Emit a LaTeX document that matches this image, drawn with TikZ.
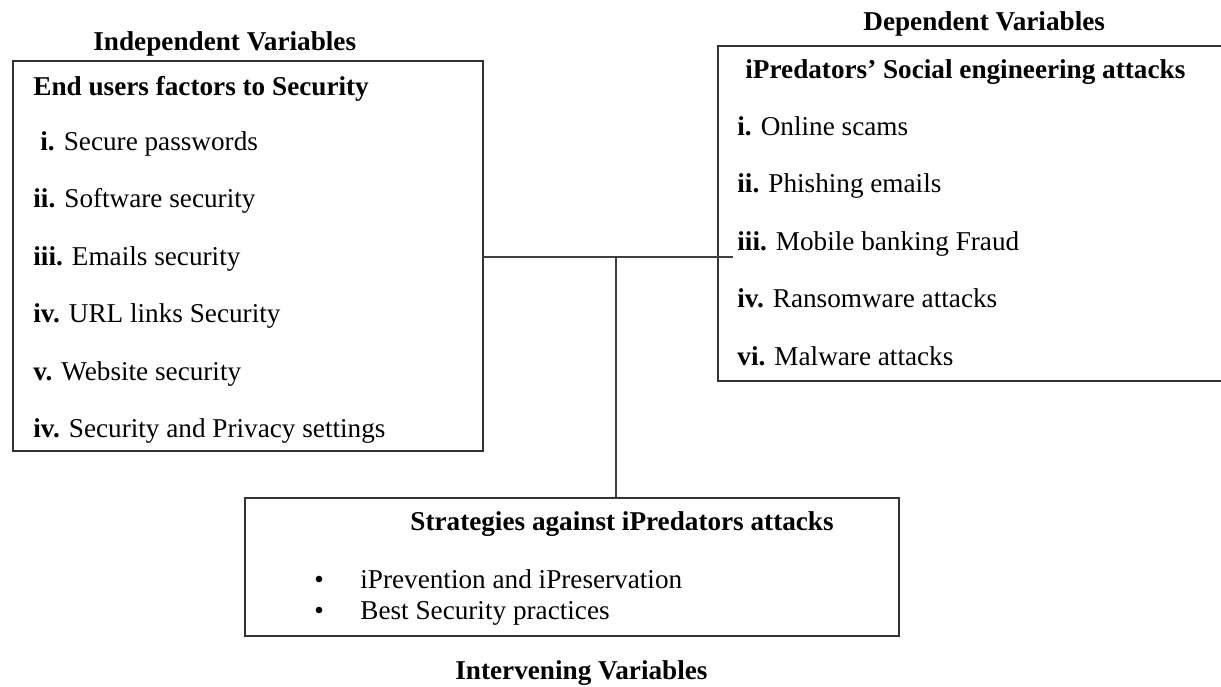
\documentclass[tikz,border=0pt]{standalone}
\usepackage{fontspec}
\setmainfont{Liberation Serif}
\usetikzlibrary{positioning}

\begin{document}
\begin{tikzpicture}[x=0.5pt, y=-0.5pt,
			every node/.style={font=\fontsize{13.6pt}{16pt}\selectfont, inner sep=0pt, anchor=base west},
			frame/.style={draw=black!80, line width=0.9pt, anchor=north west},
			link/.style={draw=black!75, line width=0.8pt},
			title/.style={font=\fontsize{13.6pt}{16pt}\selectfont\bfseries}]
			\useasboundingbox (0,0) rectangle (1221,686);
			% boxes
			\node[frame, minimum width=235pt, minimum height=195pt] (users) at (12,60) {};
			\node[frame, minimum width=257pt, minimum height=167.5pt] (attacks) at (717,45) {};
			\node[frame, minimum width=327pt, minimum height=69pt] (strategies) at (244,497) {};
			% independent variables
			\node[title] (indep) at (93,50) {Independent Variables};
			\node[title] (usershead) at (33,95) {End users factors to Security};
			\node (u1) at (40,150) {\textbf{i.} Secure passwords};
			\node (u2) at (33,207.5) {\textbf{ii.} Software security};
			\node (u3) at (33,265) {\textbf{iii.} Emails security};
			\node (u4) at (33,322.5) {\textbf{iv.} URL links Security};
			\node (u5) at (33,380) {\textbf{v.} Website security};
			\node (u6) at (33,437.5) {\textbf{iv.} Security and Privacy settings};
			% dependent variables
			\node[title] (dep) at (863,30) {Dependent Variables};
			\node[title] (attackshead) at (745,78) {iPredators’ Social engineering attacks};
			\node (a1) at (737,135) {\textbf{i.} Online scams};
			\node (a2) at (737,192.5) {\textbf{ii.} Phishing emails};
			\node (a3) at (737,250) {\textbf{iii.} Mobile banking Fraud};
			\node (a4) at (737,307.5) {\textbf{iv.} Ransomware attacks};
			\node (a5) at (737,365) {\textbf{vi.} Malware attacks};
			% intervening variables
			\node[title] (strathead) at (410,530) {Strategies against iPredators attacks};
			\node (s1) at (314,588) {\makebox[23pt][l]{\textbullet}iPrevention and iPreservation};
			\node (s2) at (314,619) {\makebox[23pt][l]{\textbullet}Best Security practices};
			\node[title] (interv) at (455,679) {Intervening Variables};
			% connectors
			\coordinate (hub) at (616,257);
			\coordinate (tip) at (733,257);
			\draw[link] (users.east |- hub) -- (tip);
			\draw[link] (hub) -- (hub |- strategies.north);
		\end{tikzpicture}
\end{document}
